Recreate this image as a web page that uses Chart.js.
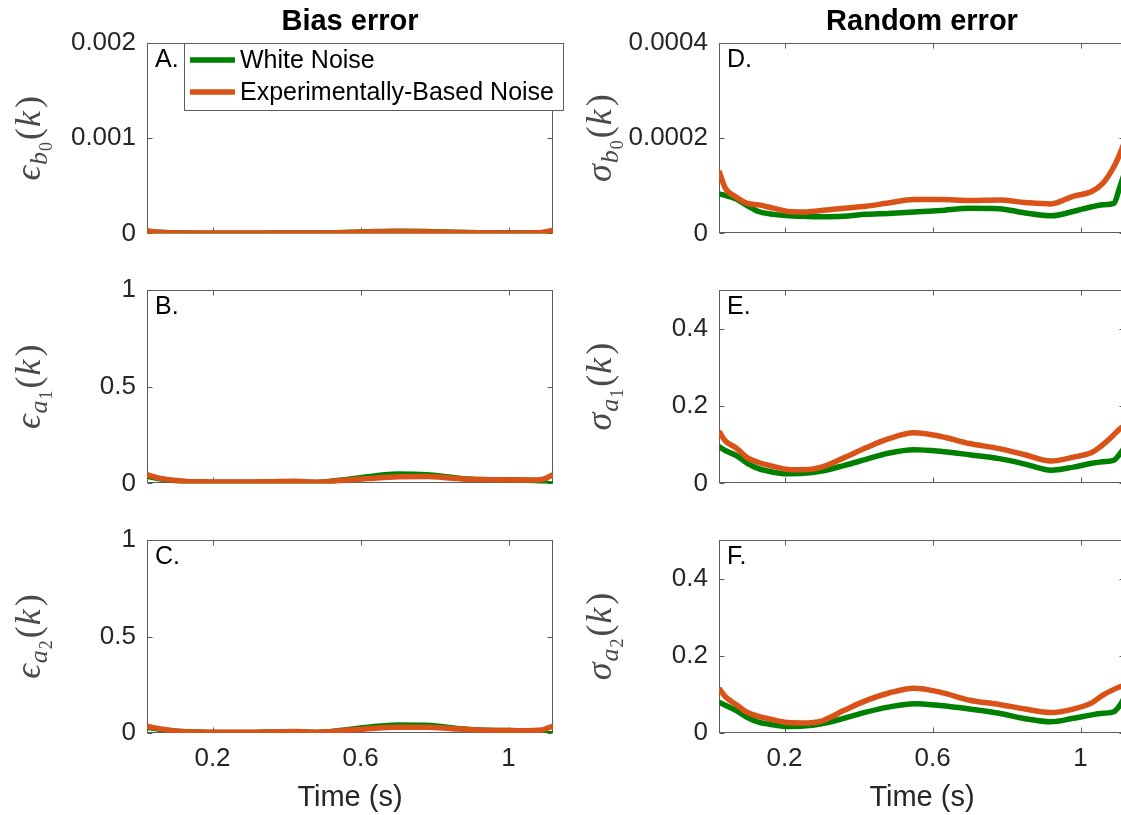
<!DOCTYPE html>
<html>
<head>
<title>Bias and random error</title>
<style>
    * {
        margin: 0;
        padding: 0;
        box-sizing: border-box;
    }

    body {
        width: 1121px;
        height: 815px;
        overflow: hidden;
        background: #fff;
        position: relative;
    }

    /* each subplot sits in its own absolutely placed box */
    .panel {
        position: absolute;
    }

    .panel canvas {
        display: block;
    }
</style>
</head>
<body>
    <div class="panel" style="left:0px;top:0px"><canvas id="panelA" width="572" height="260"></canvas></div>
    <div class="panel" style="left:572px;top:0px"><canvas id="panelD" width="560" height="260"></canvas></div>
    <div class="panel" style="left:0px;top:260px"><canvas id="panelB" width="572" height="250"></canvas></div>
    <div class="panel" style="left:572px;top:260px"><canvas id="panelE" width="560" height="250"></canvas></div>
    <div class="panel" style="left:0px;top:510px"><canvas id="panelC" width="572" height="305"></canvas></div>
    <div class="panel" style="left:572px;top:510px"><canvas id="panelF" width="560" height="305"></canvas></div>

<script src="https://cdn.jsdelivr.net/npm/chart.js"></script>
<script>
    // time axis (s)
    var timeS = [0.023, 0.04, 0.07, 0.1, 0.13, 0.17, 0.21, 0.25, 0.3, 0.36, 0.42, 0.48,
                 0.55, 0.62, 0.7, 0.78, 0.85, 0.92, 0.98, 1.03, 1.06, 1.09, 1.105, 1.12];

    // bias error of b0
    var biasB0White = [2.2e-5, 1.6e-5, 0.9e-5, 0.5e-5, 0.3e-5, 0.2e-5, 0.2e-5, 0.2e-5, 0.2e-5, 0.3e-5, 0.4e-5, 0.3e-5,
                       0.9e-5, 1.7e-5, 2.3e-5, 2.1e-5, 1.2e-5, 0.7e-5, 0.6e-5, 0.6e-5, 0.7e-5, 0.3e-5, -0.3e-5, -0.5e-5];
    var biasB0Exp   = [2.5e-5, 1.8e-5, 1.0e-5, 0.6e-5, 0.3e-5, 0.3e-5, 0.3e-5, 0.3e-5, 0.3e-5, 0.3e-5, 0.4e-5, 0.3e-5,
                       0.8e-5, 1.5e-5, 2.0e-5, 1.8e-5, 1.0e-5, 0.6e-5, 0.5e-5, 0.5e-5, 0.6e-5, 1.0e-5, 2.0e-5, 3.5e-5];

    // bias error of a1
    var biasA1White = [0.038, 0.030, 0.020, 0.013, 0.009, 0.007, 0.006, 0.006, 0.006, 0.008, 0.009, 0.005,
                       0.018, 0.035, 0.048, 0.045, 0.030, 0.020, 0.019, 0.018, 0.015, 0.008, 0.000, -0.005];
    var biasA1Exp   = [0.045, 0.035, 0.022, 0.015, 0.010, 0.008, 0.007, 0.007, 0.007, 0.009, 0.011, 0.006,
                       0.015, 0.025, 0.035, 0.036, 0.027, 0.020, 0.019, 0.018, 0.017, 0.020, 0.030, 0.045];

    // bias error of a2
    var biasA2White = [0.030, 0.024, 0.015, 0.009, 0.006, 0.004, 0.003, 0.003, 0.003, 0.005, 0.007, 0.003,
                       0.014, 0.030, 0.042, 0.040, 0.026, 0.015, 0.013, 0.012, 0.010, 0.004, -0.003, -0.005];
    var biasA2Exp   = [0.035, 0.028, 0.018, 0.011, 0.007, 0.005, 0.004, 0.004, 0.004, 0.006, 0.008, 0.004,
                       0.012, 0.022, 0.030, 0.030, 0.022, 0.015, 0.013, 0.012, 0.013, 0.016, 0.025, 0.035];

    // random error of b0
    var randB0White = [0.83e-4, 0.80e-4, 0.72e-4, 0.58e-4, 0.46e-4, 0.40e-4, 0.37e-4, 0.36e-4, 0.35e-4, 0.36e-4, 0.40e-4, 0.42e-4,
                       0.45e-4, 0.48e-4, 0.53e-4, 0.52e-4, 0.43e-4, 0.37e-4, 0.46e-4, 0.56e-4, 0.60e-4, 0.63e-4, 0.95e-4, 1.30e-4];
    var randB0Exp   = [1.31e-4, 0.95e-4, 0.76e-4, 0.63e-4, 0.60e-4, 0.53e-4, 0.46e-4, 0.45e-4, 0.48e-4, 0.53e-4, 0.57e-4, 0.64e-4,
                       0.71e-4, 0.71e-4, 0.69e-4, 0.70e-4, 0.65e-4, 0.62e-4, 0.78e-4, 0.88e-4, 1.05e-4, 1.40e-4, 1.65e-4, 1.95e-4];

    // random error of a1
    var randA1White = [0.095, 0.085, 0.072, 0.052, 0.038, 0.029, 0.025, 0.026, 0.032, 0.046, 0.062, 0.078,
                       0.087, 0.083, 0.074, 0.064, 0.050, 0.034, 0.042, 0.052, 0.056, 0.060, 0.075, 0.095];
    var randA1Exp   = [0.135, 0.110, 0.091, 0.066, 0.054, 0.044, 0.036, 0.035, 0.042, 0.066, 0.092, 0.115,
                       0.131, 0.122, 0.103, 0.090, 0.074, 0.058, 0.068, 0.080, 0.100, 0.126, 0.140, 0.150];

    // random error of a2
    var randA2White = [0.080, 0.072, 0.058, 0.040, 0.028, 0.021, 0.017, 0.018, 0.024, 0.038, 0.054, 0.067,
                       0.076, 0.071, 0.062, 0.051, 0.037, 0.029, 0.038, 0.047, 0.051, 0.055, 0.070, 0.095];
    var randA2Exp   = [0.116, 0.094, 0.073, 0.053, 0.043, 0.034, 0.027, 0.026, 0.031, 0.058, 0.084, 0.103,
                       0.116, 0.106, 0.085, 0.074, 0.062, 0.053, 0.062, 0.078, 0.098, 0.113, 0.119, 0.125];

    // ticks
    var xTicks = [0.2, 0.6, 1];
    var xTickLabels = ['0.2', '0.6', '1'];
    var yTicksBiasB0 = [0, 0.001, 0.002];
    var yLabelsBiasB0 = ['0', '0.001', '0.002'];
    var yTicksBiasA = [0, 0.5, 1];
    var yLabelsBiasA = ['0', '0.5', '1'];
    var yTicksRandB0 = [0, 0.0002, 0.0004];
    var yLabelsRandB0 = ['0', '0.0002', '0.0004'];
    var yTicksRandA = [0, 0.2, 0.4];
    var yLabelsRandA = ['0', '0.2', '0.4'];

    var seriesNames = ['White Noise', 'Experimentally-Based Noise'];

    var GREEN = '#008000';
    var ORANGE = '#D95319';
    var AXIS = '#262626';
    var SANS = "'Liberation Sans', Arial, sans-serif";
    var SERIF = "'Liberation Serif', 'DejaVu Serif', serif";

    function toPoints(xs, ys) {
        return xs.map(function (x, i) { return { x: x, y: ys[i] }; });
    }

    // y label such as eps_{b_0}(k), written rotated like a LaTeX label
    function drawMathLabel(ctx, cx, cy, spec) {
        var pieces = [
            { t: spec.sym, font: 'italic 36px ' + SERIF, dy: 0, gap: 1 },
            { t: spec.sub, font: 'italic 26px ' + SERIF, dy: 7, gap: 1 },
            { t: spec.subsub, font: '18px ' + SERIF, dy: 12, gap: 2 },
            { t: '(', font: '36px ' + SERIF, dy: 0, gap: 1 },
            { t: 'k', font: 'italic 36px ' + SERIF, dy: 0, gap: 3 },
            { t: ')', font: '36px ' + SERIF, dy: 0, gap: 0 }
        ];
        var total = 0;
        pieces.forEach(function (p) {
            ctx.font = p.font;
            p.w = ctx.measureText(p.t).width + p.gap;
            total += p.w;
        });
        ctx.save();
        ctx.translate(cx, cy);
        ctx.rotate(-Math.PI / 2);
        ctx.fillStyle = '#4a4a4a';
        ctx.textBaseline = 'alphabetic';
        ctx.textAlign = 'left';
        var x = -total / 2;
        pieces.forEach(function (p) {
            ctx.font = p.font;
            ctx.fillText(p.t, x, 9 + p.dy);
            x += p.w;
        });
        ctx.restore();
    }

    // MATLAB style box, inward ticks, panel letter, legend and titles
    var matlabAxes = {
        id: 'matlabAxes',
        beforeDatasetsDraw: function (chart) {
            var ctx = chart.ctx, a = chart.chartArea;
            var xs = chart.scales.x, ys = chart.scales.y;
            var L = Math.round(a.left) + 0.5, R = Math.round(a.right) - 0.5;
            var T = Math.round(a.top) + 0.5, B = Math.round(a.bottom) - 0.5;
            ctx.save();
            ctx.strokeStyle = '#5c5c5c';
            ctx.lineWidth = 1;
            ctx.strokeRect(L, T, R - L, B - T);
            ctx.beginPath();
            ys.ticks.forEach(function (t) {
                var py = Math.round(ys.getPixelForValue(t.value)) + 0.5;
                ctx.moveTo(L, py); ctx.lineTo(L + 5, py);
                ctx.moveTo(R, py); ctx.lineTo(R - 5, py);
            });
            xs.ticks.forEach(function (t) {
                var px = Math.round(xs.getPixelForValue(t.value)) + 0.5;
                ctx.moveTo(px, T); ctx.lineTo(px, T + 5);
                ctx.moveTo(px, B); ctx.lineTo(px, B - 5);
            });
            ctx.stroke();
            ctx.restore();
        },
        afterDatasetsDraw: function (chart, args, opts) {
            var ctx = chart.ctx, a = chart.chartArea;
            ctx.save();
            ctx.fillStyle = '#000';
            ctx.font = '25px ' + SANS;
            ctx.textBaseline = 'alphabetic';
            ctx.textAlign = 'left';
            ctx.fillText(opts.letter, a.left + 8, a.top + 24);

            if (opts.legend) {
                var bx = 184.5, by = 43.5, bw = 379, bh = 67;
                ctx.fillStyle = '#fff';
                ctx.fillRect(bx, by, bw, bh);
                ctx.strokeStyle = '#5c5c5c';
                ctx.lineWidth = 1;
                ctx.strokeRect(bx, by, bw, bh);
                chart.data.datasets.forEach(function (ds, i) {
                    var ly = 60 + i * 32;
                    ctx.strokeStyle = ds.borderColor;
                    ctx.lineWidth = 5.5;
                    ctx.beginPath();
                    ctx.moveTo(190, ly);
                    ctx.lineTo(235, ly);
                    ctx.stroke();
                    ctx.fillStyle = '#000';
                    ctx.textBaseline = 'middle';
                    ctx.fillText(ds.label, 240, ly + 1);
                });
            }
            ctx.restore();
        },
        afterDraw: function (chart, args, opts) {
            var ctx = chart.ctx, a = chart.chartArea;
            drawMathLabel(ctx, opts.labelX, (a.top + a.bottom) / 2, opts.ylabel);
            if (opts.title) {
                ctx.save();
                ctx.fillStyle = '#000';
                ctx.font = 'bold 29px ' + SANS;
                ctx.textAlign = 'center';
                ctx.textBaseline = 'alphabetic';
                ctx.fillText(opts.title, (a.left + a.right) / 2, 30);
                ctx.restore();
            }
        }
    };

    function makePanel(id, p) {
        var showX = !!p.showX;
        return new Chart(document.getElementById(id), {
            type: 'line',
            data: {
                datasets: [{
                    label: seriesNames[0],
                    data: toPoints(timeS, p.white),
                    borderColor: GREEN,
                    borderWidth: 5.5,
                    pointRadius: 0,
                    cubicInterpolationMode: 'monotone',
                    order: 2
                }, {
                    label: seriesNames[1],
                    data: toPoints(timeS, p.exp),
                    borderColor: ORANGE,
                    borderWidth: 5.5,
                    pointRadius: 0,
                    cubicInterpolationMode: 'monotone',
                    order: 1
                }]
            },
            options: {
                responsive: false,
                animation: false,
                devicePixelRatio: 1,
                layout: { padding: { left: 0, right: p.padRight, top: p.padTop, bottom: p.padBottom } },
                plugins: {
                    legend: { display: false },
                    tooltip: { enabled: false },
                    matlabAxes: {
                        letter: p.letter,
                        ylabel: p.ylabel,
                        labelX: p.labelX,
                        title: p.title,
                        legend: p.legend
                    }
                },
                scales: {
                    x: {
                        type: 'linear',
                        min: 0.023,
                        max: 1.12,
                        display: showX,
                        grid: { display: false, drawTicks: false },
                        border: { display: false },
                        afterBuildTicks: function (s) {
                            s.ticks = xTicks.map(function (v) { return { value: v }; });
                        },
                        ticks: {
                            autoSkip: false,
                            maxRotation: 0,
                            padding: 10,
                            color: AXIS,
                            font: { family: SANS, size: 26 },
                            callback: function (v) { return xTickLabels[xTicks.indexOf(v)]; }
                        },
                        title: {
                            display: showX,
                            text: 'Time (s)',
                            color: AXIS,
                            font: { family: SANS, size: 29 },
                            padding: { top: 0, bottom: 0 }
                        },
                        // only the bottom row reserves room under the plot
                        afterFit: function (s) { s.height = showX ? 82 : 0; }
                    },
                    y: {
                        min: 0,
                        max: p.yMax,
                        grid: { display: false, drawTicks: false },
                        border: { display: false },
                        afterBuildTicks: function (s) {
                            s.ticks = p.yTicks.map(function (v) { return { value: v }; });
                        },
                        ticks: {
                            padding: 11,
                            color: AXIS,
                            font: { family: SANS, size: 26 },
                            callback: function (v) { return p.yLabels[p.yTicks.indexOf(v)]; }
                        },
                        afterFit: function (s) { s.width = 147; }
                    }
                }
            },
            plugins: [matlabAxes]
        });
    }

    // left column: bias error
    makePanel('panelA', {
        white: biasB0White, exp: biasB0Exp, yMax: 0.002, yTicks: yTicksBiasB0, yLabels: yLabelsBiasB0,
        padTop: 43, padBottom: 23, padRight: 19, letter: 'A.', title: 'Bias error', legend: true,
        labelX: 31, ylabel: { sym: '\u03F5', sub: 'b', subsub: '0' }
    });
    makePanel('panelB', {
        white: biasA1White, exp: biasA1Exp, yMax: 1, yTicks: yTicksBiasA, yLabels: yLabelsBiasA,
        padTop: 30, padBottom: 26, padRight: 19, letter: 'B.',
        labelX: 31, ylabel: { sym: '\u03F5', sub: 'a', subsub: '1' }
    });
    makePanel('panelC', {
        white: biasA2White, exp: biasA2Exp, yMax: 1, yTicks: yTicksBiasA, yLabels: yLabelsBiasA,
        padTop: 30, padBottom: 0, padRight: 19, letter: 'C.', showX: true,
        labelX: 31, ylabel: { sym: '\u03F5', sub: 'a', subsub: '2' }
    });

    // right column: random error
    makePanel('panelD', {
        white: randB0White, exp: randB0Exp, yMax: 0.0004, yTicks: yTicksRandB0, yLabels: yLabelsRandB0,
        padTop: 43, padBottom: 23, padRight: 7, letter: 'D.', title: 'Random error',
        labelX: 30, ylabel: { sym: '\u03C3', sub: 'b', subsub: '0' }
    });
    makePanel('panelE', {
        white: randA1White, exp: randA1Exp, yMax: 0.5, yTicks: yTicksRandA, yLabels: yLabelsRandA,
        padTop: 30, padBottom: 26, padRight: 7, letter: 'E.',
        labelX: 30, ylabel: { sym: '\u03C3', sub: 'a', subsub: '1' }
    });
    makePanel('panelF', {
        white: randA2White, exp: randA2Exp, yMax: 0.5, yTicks: yTicksRandA, yLabels: yLabelsRandA,
        padTop: 30, padBottom: 0, padRight: 7, letter: 'F.', showX: true,
        labelX: 30, ylabel: { sym: '\u03C3', sub: 'a', subsub: '2' }
    });
</script>
</body>
</html>
